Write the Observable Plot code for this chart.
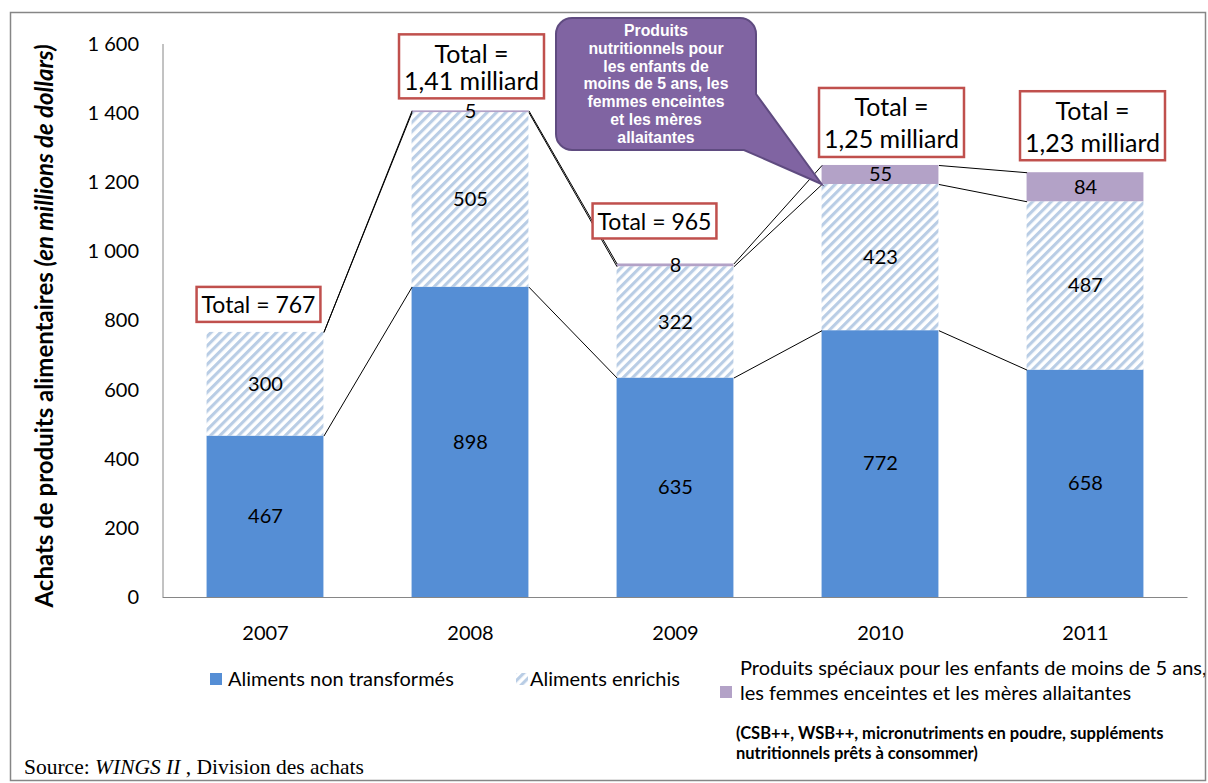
<!DOCTYPE html>
<html><head><meta charset="utf-8">
<script src="https://cdn.jsdelivr.net/npm/d3@7"></script>
<script src="https://cdn.jsdelivr.net/npm/@observablehq/plot@0.6"></script>
<style>body{margin:0;background:#fff;} #chart svg{display:block;}</style>
</head><body><div id="chart"></div>
<script>
// ---- data ----
const years = ["2007", "2008", "2009", "2010", "2011"];
const nonTransformes = [467, 898, 635, 772, 658];
const enrichis = [300, 505, 322, 423, 487];
const speciaux = [0, 5, 8, 55, 84];
const yTicks = [0, 200, 400, 600, 800, 1000, 1200, 1400, 1600];
const legendLabels = ["Aliments non transformés", "Aliments enrichis",
  "Produits spéciaux pour les enfants de moins de 5 ans,", "les femmes enceintes et les mères allaitantes"];
const noteLines = ["(CSB++, WSB++, micronutriments en poudre, suppléments", "nutritionnels prêts à consommer)"];
const calloutLines = ["Produits", "nutritionnels pour", "les enfants de", "moins de 5 ans, les", "femmes enceintes", "et les mères", "allaitantes"];

// ---- styling / layout ----
const BLUE = "#558ed5", HATCH = "#b9cde5", PURPLE = "#b3a2c7", RED = "#c0504d";
const half = 0.285; // half bar width in category units
const totalLayout = [
  {dx: -7, gap: 10, size: 23, lh: 1.2},
  {dx: 1, gap: 12, size: 25, lh: 1.08},
  {dx: -21, gap: 25, size: 23, lh: 1.2},
  {dx: 11, gap: 8, size: 25, lh: 1.28},
  {dx: 7, gap: 12, size: 25, lh: 1.28}
];

// ---- derived tables ----
const series = [nonTransformes, enrichis, speciaux];
const rows = [];
years.forEach((yr, i) => {
  let base = 0;
  series.forEach((arr, s) => { const v = arr[i]; rows.push({i, year: yr, s, value: v, y1: base, y2: base + v}); base += v; });
});
const totals = years.map((yr, i) => {
  const t = nonTransformes[i] + enrichis[i] + speciaux[i];
  const label = t >= 1000 ? "Total =\n" + (t / 1000).toFixed(2).replace(".", ",") + " milliard" : "Total = " + t;
  return {i, total: t, label};
});
const links = [];
for (let i = 0; i < years.length - 1; i++) {
  for (let s = 0; s < 3; s++) {
    links.push({x1: i + half, x2: i + 1 - half, y1: rows[i * 3 + s].y2, y2: rows[(i + 1) * 3 + s].y2});
  }
}
const seg = s => rows.filter(d => d.s === s && d.value > 0);

const plot = Plot.plot({
  width: 1208, height: 783,
  marginLeft: 162.5, marginRight: 20.5, marginTop: 44, marginBottom: 186,
  style: {fontFamily: "Lato, 'Open Sans', sans-serif", fontSize: "20px", color: "#000", background: "transparent", overflow: "visible"},
  x: {type: "linear", domain: [-0.5, 4.5], ticks: d3.range(years.length), tickFormat: i => years[i], tickSize: 0, tickPadding: 28, label: null},
  y: {domain: [0, 1600], ticks: yTicks, tickFormat: d => d3.format(",")(d).replace(",", " "), tickSize: 0, tickPadding: 24, label: null},
  marks: [
    Plot.rectY(seg(0), {x1: d => d.i - half, x2: d => d.i + half, y1: "y1", y2: "y2", fill: BLUE}),
    Plot.rectY(seg(1), {x1: d => d.i - half, x2: d => d.i + half, y1: "y1", y2: "y2", fill: HATCH, ariaDescription: "hatched"}),
    Plot.rectY(seg(2), {x1: d => d.i - half, x2: d => d.i + half, y1: "y1", y2: "y2", fill: PURPLE}),
    Plot.ruleX([-0.5], {stroke: "#868686"}),
    Plot.ruleY([0], {stroke: "#868686"}),
    Plot.link(links, {x1: "x1", x2: "x2", y1: "y1", y2: "y2", stroke: "#000", strokeWidth: 1}),
    Plot.text(rows.filter(d => d.value > 0), {x: "i", y: d => (d.y1 + d.y2) / 2, text: d => String(d.value), fontSize: 20, fill: "#000"}),
    ...totals.map((t, k) => Plot.text([t], {x: "i", y: "total", text: "label", lineAnchor: "bottom", lineHeight: totalLayout[k].lh,
      dx: totalLayout[k].dx, dy: -totalLayout[k].gap - 10, fontSize: totalLayout[k].size, fill: "#000", ariaDescription: "total-" + k}))
  ]
});
document.getElementById("chart").appendChild(plot);

// ---- post-processing: pattern, boxes, callout, legend ----
const svg = d3.select(plot);
const xs = plot.scale("x").apply, ys = plot.scale("y").apply;
const defs = svg.insert("defs", ":first-child");
const pat = defs.append("pattern").attr("id", "hatch").attr("patternUnits", "userSpaceOnUse")
  .attr("width", 6.6).attr("height", 6.6).attr("patternTransform", "rotate(45)");
pat.append("rect").attr("width", 6.6).attr("height", 6.6).attr("fill", "#fff");
pat.append("rect").attr("width", 3.1).attr("height", 6.6).attr("fill", HATCH);
svg.selectAll('[aria-description="hatched"] rect').attr("fill", "url(#hatch)");

const svgRect = plot.getBoundingClientRect();
totals.forEach((t, k) => {
  const g = svg.select(`[aria-description="total-${k}"]`);
  const node = g.node();
  if (!node) return;
  const bb = node.getBoundingClientRect();
  const padX = 5, padY = 3.5;
  const desiredBottom = ys(t.total) - totalLayout[k].gap;
  const curBottom = bb.bottom - svgRect.top + padY;
  const shift = desiredBottom - curBottom;
  const tr = g.attr("transform") || "";
  g.attr("transform", tr + ` translate(0,${shift})`);
  d3.select(node.parentNode).insert("rect", () => node)
    .attr("x", bb.left - svgRect.left - padX).attr("y", bb.top - svgRect.top - padY + shift)
    .attr("width", bb.width + 2 * padX).attr("height", bb.height + 2 * padY)
    .attr("fill", "#fff").attr("stroke", RED).attr("stroke-width", 2.5);
});

// callout bubble
const bl = xs(2) - 119, br = xs(2) + 81, bt = ys(1600) - 26, bb2 = bt + 132, r = 16;
const tipX = xs(3 - half), tipY = ys(nonTransformes[3] + enrichis[3]);
const bubblePath = `M${bl + r},${bt} H${br - r} A${r},${r} 0 0 1 ${br},${bt + r} V${bt + 76} L${tipX},${tipY} L${br - 12},${bb2} H${bl + r} A${r},${r} 0 0 1 ${bl},${bb2 - r} V${bt + r} A${r},${r} 0 0 1 ${bl + r},${bt} Z`;
const cg = svg.append("g");
cg.append("path").attr("d", bubblePath).attr("fill", "#8064a2").attr("stroke", "#5f4b80").attr("stroke-width", 2);
cg.append("text").attr("text-anchor", "middle").attr("fill", "#fff")
  .attr("font-family", "'Liberation Sans', Arial, sans-serif").attr("font-weight", "bold").attr("font-size", 15.8)
  .selectAll("tspan").data(calloutLines).join("tspan")
  .attr("x", (bl + br) / 2).attr("y", (d, j) => bt + 18 + j * 17.8).text(d => d);

// y axis title
const yt = svg.append("text").attr("transform", "translate(53,326) rotate(-90)").attr("text-anchor", "middle")
  .attr("font-family", "Lato, sans-serif").attr("font-weight", "bold").attr("font-size", 24).attr("fill", "#000");
yt.append("tspan").text("Achats de produits alimentaires ");
yt.append("tspan").attr("font-style", "italic").text("(en millions de dollars)");

// legend
const lg = svg.append("g").attr("font-family", "Lato, sans-serif").attr("font-size", 20).attr("fill", "#000").attr("text-anchor", "start");
lg.append("rect").attr("x", 210).attr("y", 673).attr("width", 12).attr("height", 12).attr("fill", BLUE);
lg.append("text").attr("x", 228).attr("y", 679).attr("dy", "0.35em").text(legendLabels[0]);
lg.append("rect").attr("x", 516).attr("y", 673).attr("width", 12).attr("height", 12).attr("fill", "url(#hatch)");
lg.append("text").attr("x", 530).attr("y", 679).attr("dy", "0.35em").text(legendLabels[1]);
lg.append("rect").attr("x", 720).attr("y", 686).attr("width", 12).attr("height", 12).attr("fill", PURPLE);
lg.append("text").attr("x", 740).attr("y", 668).attr("dy", "0.35em").text(legendLabels[2]);
lg.append("text").attr("x", 740).attr("y", 693).attr("dy", "0.35em").text(legendLabels[3]);
const ng = svg.append("g").attr("font-family", "Lato, sans-serif").attr("font-size", 16.5).attr("font-weight", "bold").attr("fill", "#000").attr("text-anchor", "start");
noteLines.forEach((t, j) => ng.append("text").attr("x", 736).attr("y", 733 + j * 20).attr("dy", "0.35em").text(t));

// source
const src = svg.append("text").attr("x", 24).attr("y", 766).attr("dy", "0.35em").attr("text-anchor", "start")
  .attr("font-family", "'Liberation Serif', 'DejaVu Serif', serif").attr("font-size", 21.5).attr("fill", "#000");
src.append("tspan").text("Source: ");
src.append("tspan").attr("font-style", "italic").text("WINGS II");
src.append("tspan").text(" , Division des achats");

// outer frame
svg.append("rect").attr("x", 10.5).attr("y", 12.5).attr("width", 1195).attr("height", 768)
  .attr("fill", "none").attr("stroke", "#868686").attr("stroke-width", 1.5);
</script>
</body></html>
